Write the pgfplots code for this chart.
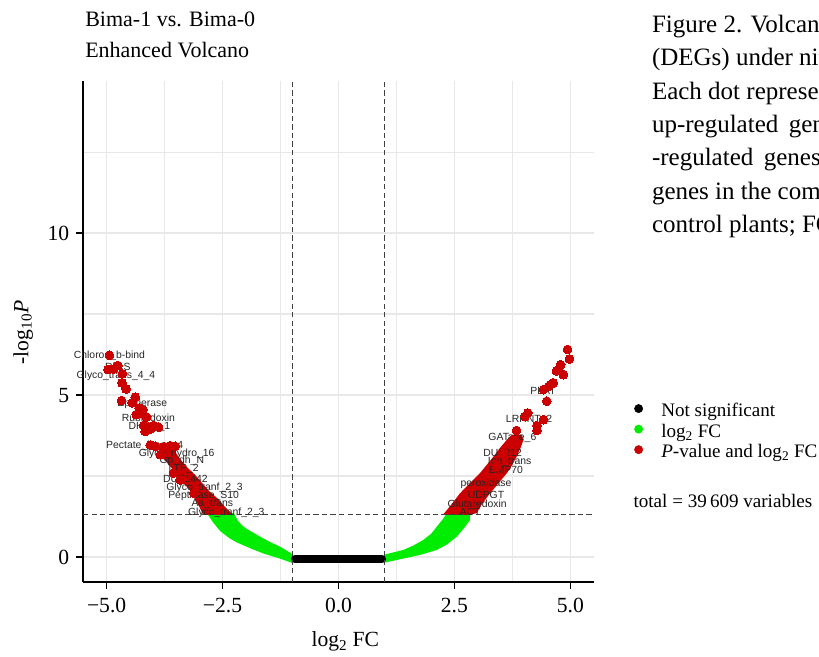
\documentclass[border=0pt]{standalone}
\usepackage{fontspec}
\setmainfont{Liberation Serif}
\newfontfamily\lblfont{Liberation Sans}
\usepackage{pgfplots}
\pgfplotsset{compat=1.18}
\definecolor{vred}{RGB}{204,0,0}
\definecolor{vgreen}{RGB}{0,236,0}
\definecolor{gridc}{RGB}{232,232,232}
\begin{document}
\begin{tikzpicture}
\path[use as bounding box] (0,0) rectangle (614.25pt,492.75pt);
\clip (0,0) rectangle (614.25pt,492.75pt);
% titles
\node[anchor=base west, inner sep=0pt, font=\fontsize{16.5}{18}\selectfont] at (63.75pt,472.7pt) {Bima-1 vs. Bima-0};
\node[anchor=base west, inner sep=0pt, font=\fontsize{16.5}{18}\selectfont] at (63.75pt,449.5pt) {Enhanced Volcano};
% caption text (cropped at right edge)
\begin{scope}[every node/.style={anchor=base west, inner sep=0pt, font=\fontsize{18.75}{22}\selectfont}]
\node at (488.8pt,468.2pt) {Figure 2. Volcano plot of differentially expressed genes};
\node at (488.8pt,443.25pt) {(DEGs) under nitrogen treatment.};
\node at (488.8pt,418.3pt) {Each dot represents one gene; red dots indicate};
\node at (488.8pt,393.3pt) {\spaceskip=0.42em up-regulated genes and down};
\node at (488.8pt,368.3pt) {\spaceskip=0.42em -regulated genes; black dots indicate};
\node at (488.8pt,343.3pt) {genes in the comparison between treated and};
\node at (488.8pt,318.4pt) {control plants; FC, fold change.};
\end{scope}
% axis labels
\node[rotate=90, anchor=base, inner sep=0pt, font=\fontsize{16.2}{18}\selectfont] at (21.2pt,243.5pt) {-log\textsubscript{10}\textit{P}};
\node[anchor=base, inner sep=0pt, font=\fontsize{16.2}{18}\selectfont] at (259pt,7.5pt) {log\textsubscript{2} FC};
\node[anchor=base west, inner sep=0pt, font=\fontsize{14.3}{16}\selectfont] at (475pt,112pt) {total = 39\,609 variables};
\begin{axis}[
  at={(62.25pt,56.25pt)}, anchor=south west,
  scale only axis, width=383.25pt, height=375.75pt,
  xmin=-5.51, xmax=5.51, ymin=-0.77, ymax=14.70,
  clip=false,
  axis x line*=bottom, axis y line*=left,
  axis line style={line width=1.4pt, black, -},
  xtick={-5,-2.5,0,2.5,5}, xticklabels={−5.0,−2.5,0.0,2.5,5.0},
  ytick={0,5,10}, yticklabels={0,5,10},
  minor xtick={-3.75,-1.25,1.25,3.75}, minor ytick={2.5,7.5,12.5},
  grid=both,
  major grid style={gridc, line width=1.1pt},
  minor grid style={gridc, line width=1.1pt},
  tick align=outside, major tick length=5pt, minor tick length=0pt,
  tick style={black, line width=1.1pt},
  ticklabel style={font=\fontsize{16.2}{18}\selectfont},
  xticklabel style={yshift=-3.5pt},
  yticklabel style={xshift=-1.8pt},
  legend style={at={(1.0787,0.3593)}, anchor=north west, draw=none, fill=none,
    inner sep=0pt, outer sep=0pt, font=\fontsize{14.3}{16}\selectfont,
    row sep=0.4pt, column sep=13.7pt,
    nodes={inner sep=0pt, text height=11pt, text depth=4pt}},
  legend cell align=left,
  legend image code/.code={\fill[#1] (0pt,2.55pt) circle (3.1pt);},
]
\addlegendimage{black}
\addlegendentry{Not significant}
\addlegendimage{vgreen}
\addlegendentry{log\textsubscript{2} FC}
\addlegendimage{vred}
\addlegendentry{\textit{P}-value and log\textsubscript{2} FC}

% green bands (log2 FC only)
\addplot[forget plot, fill=vgreen, draw=none] coordinates {
 (-2.84,1.36) (-2.70,1.06) (-2.55,0.80) (-2.35,0.58) (-2.19,0.45) (-1.90,0.27)
 (-1.62,0.11) (-1.30,-0.03) (-1.00,-0.18) (-0.98,0.08) (-1.26,0.32) (-1.50,0.48)
 (-1.69,0.63) (-1.90,0.80) (-2.05,0.94) (-2.17,1.12) (-2.26,1.36)} -- cycle;
\addplot[forget plot, fill=vgreen, draw=none] coordinates {
 (1.00,0.08) (1.40,0.22) (1.62,0.36) (1.83,0.53) (2.00,0.72) (2.12,0.94) (2.24,1.15)
 (2.34,1.36) (2.84,1.36) (2.84,1.15) (2.70,0.88) (2.55,0.63) (2.35,0.40) (2.12,0.22)
 (1.80,0.08) (1.55,0.00) (1.00,-0.17)} -- cycle;
% dense red bands
\addplot[forget plot, fill=vred, draw=none] coordinates {
 (-2.27,1.30) (-2.45,1.55) (-2.60,1.80) (-2.80,2.05) (-2.95,2.30) (-3.10,2.55)
 (-3.25,2.75) (-3.40,3.00) (-3.50,3.20) (-3.55,3.40) (-3.75,3.55) (-3.90,3.40)
 (-3.85,3.20) (-3.72,2.95) (-3.60,2.75) (-3.48,2.50) (-3.35,2.30) (-3.20,2.05)
 (-3.10,1.80) (-3.00,1.55) (-2.92,1.30)} -- cycle;
\addplot[forget plot, fill=vred, draw=none] coordinates {
 (2.25,1.30) (2.45,1.65) (2.62,1.97) (2.85,2.30) (3.05,2.59) (3.20,2.85) (3.34,3.10)
 (3.50,3.40) (3.63,3.62) (3.75,3.78) (3.95,3.78) (3.99,3.62) (3.92,3.35) (3.84,3.10)
 (3.75,2.85) (3.63,2.59) (3.45,2.28) (3.27,1.97) (3.10,1.65) (2.98,1.36) (2.84,1.30)} -- cycle;
% not significant
\addplot[forget plot, black, line width=6pt, line cap=round] coordinates {(-0.94,-0.06) (0.94,-0.06)};
% significant points
\addplot[forget plot, color=vred, only marks, mark=*, mark size=3.3pt, mark options={draw=vred, fill=vred, line width=0pt}] coordinates {
 (-4.94,6.23) (-4.76,5.91) (-4.97,5.79) (-4.85,5.81) (-4.66,5.66) (-4.67,5.38) (-4.58,5.19)
 (-4.38,4.94) (-4.68,4.83) (-4.45,4.76) (-4.22,4.55) (-4.27,4.43) (-4.36,4.40) (-4.14,4.32)
 (-4.20,4.06) (-4.09,4.01) (-3.99,4.06) (-3.88,4.01) (-4.17,3.88) (-4.06,3.46) (-3.95,3.42)
 (-3.77,3.40) (-3.63,3.44) (-3.52,3.42) (-4.30,4.60) (-4.05,3.95) (-3.84,3.16) (-3.56,2.59)
 (-3.41,2.38) (-3.12,1.97)
 (4.94,6.41) (4.98,6.12) (4.79,5.94) (4.74,5.79) (4.85,5.63) (4.63,5.38) (4.53,5.27)
 (4.42,5.17) (4.49,4.81) (4.08,4.45) (4.02,4.34) (4.42,4.24) (4.28,4.06) (4.28,3.91)
 (3.84,3.91) (4.70,5.75) (4.58,5.33) (3.77,3.62) (3.56,3.21) (3.41,2.80)};
% cut-off lines
\addplot[forget plot, black!75, line width=0.75pt, dash pattern=on 4pt off 2.4pt] coordinates {(-1,-0.77) (-1,14.70)};
\addplot[forget plot, black!75, line width=0.75pt, dash pattern=on 4pt off 2.4pt] coordinates {(1,-0.77) (1,14.70)};
\addplot[forget plot, black!75, line width=0.75pt, dash pattern=on 4pt off 2.4pt] coordinates {(-5.51,1.301) (5.51,1.301)};
% gene labels
\begin{scope}[every node/.style={font=\lblfont\fontsize{7.8}{8}\selectfont, text=black!85, inner sep=0pt}]
\node at (axis cs:-4.94,6.22) {Chloroa\_b-bind};
\node at (axis cs:-4.76,5.89) {RbcS};
\node at (axis cs:-4.80,5.60) {Glyco\_trans\_4\_4};
\node at (axis cs:-4.23,4.73) {Epimerase};
\node at (axis cs:-4.10,4.29) {Rubredoxin};
\node at (axis cs:-4.08,4.03) {DHRR\_1};
\node at (axis cs:-4.18,3.45) {Pectate\_lyase\_4};
\node at (axis cs:-3.49,3.19) {Glyco\_hydro\_16};
\node at (axis cs:-3.38,2.97) {Gp\_dh\_N};
\node at (axis cs:-3.34,2.72) {LTP\_2};
\node at (axis cs:-3.30,2.41) {DUF1442};
\node at (axis cs:-2.89,2.15) {Glyco\_tranf\_2\_3};
\node at (axis cs:-2.91,1.89) {Peptidase\_S10};
\node at (axis cs:-2.72,1.63) {Aa\_trans};
\node at (axis cs:-2.42,1.38) {Glyco\_tranf\_2\_3};
\node at (axis cs:4.41,5.12) {PLAT};
\node at (axis cs:4.11,4.22) {LRRNT\_2};
\node at (axis cs:3.75,3.67) {GATase\_6};
\node at (axis cs:3.54,3.23) {DUF212};
\node at (axis cs:3.69,2.95) {Ion\_trans};
\node at (axis cs:3.61,2.69) {EMP70};
\node at (axis cs:3.18,2.26) {peroxidase};
\node at (axis cs:3.18,1.92) {UDPGT};
\node at (axis cs:2.99,1.66) {Glutaredoxin};
\node at (axis cs:2.84,1.40) {ACT};
\end{scope}
\end{axis}
\end{tikzpicture}
\end{document}
